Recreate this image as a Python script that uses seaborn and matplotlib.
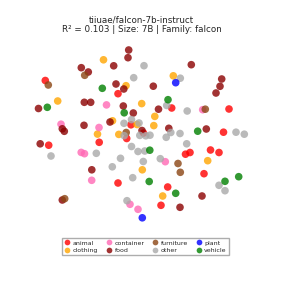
import numpy as np
import pandas as pd
import matplotlib
matplotlib.use('Agg')
import matplotlib.pyplot as plt
import seaborn as sns

# 2D embedding coordinates (x right, y up)
animal_x = [45.3, 118.0, 171.7, 229.0, 131.0, 126.7, 99.2, 48.7, 143.5, 223.5, 185.5, 190.0, 210.5, 219.0, 204.0, 118.0, 167.7, 161.0]
animal_y = [202.5, 189.3, 175.0, 174.0, 158.2, 144.5, 140.7, 137.8, 150.0, 150.8, 128.8, 130.5, 133.0, 130.5, 109.3, 100.0, 96.0, 77.7]

clothing_x = [103.5, 126.0, 57.7, 141.7, 173.3, 154.8, 112.5, 137.0, 153.8, 97.5, 118.8, 207.7, 142.3, 162.7]
clothing_y = [223.2, 197.3, 182.0, 179.4, 207.2, 166.6, 162.2, 158.5, 157.4, 148.9, 148.6, 122.3, 113.2, 87.0]

container_x = [106.5, 61.0, 99.0, 81.2, 84.5, 165.3, 91.7, 130.0, 138.0, 202.7]
container_y = [178.1, 158.8, 155.5, 130.6, 129.3, 121.3, 102.7, 78.7, 73.7, 173.3]

food_x = [128.7, 128.0, 113.7, 81.3, 88.3, 191.3, 116.0, 123.8, 153.3, 221.7, 220.0, 216.0, 84.3, 90.7, 38.5,
          123.3, 158.5, 133.3, 110.0, 84.0, 62.3, 64.3, 142.0, 168.8, 206.3, 40.2, 91.8, 62.3, 202.0, 180.0]
food_y = [233.0, 225.3, 217.2, 215.3, 211.0, 218.3, 199.0, 194.0, 196.8, 204.0, 196.7, 190.0, 180.7, 180.7, 174.5,
          177.0, 173.8, 170.0, 161.0, 157.7, 154.2, 151.7, 152.5, 154.7, 154.0, 139.2, 113.2, 83.0, 87.0, 75.7]

furniture_x = [84.7, 48.3, 205.3, 126.2, 178.0, 180.3, 64.7]
furniture_y = [207.7, 198.0, 173.8, 150.5, 119.5, 110.7, 84.3]

other_x = [144.0, 133.7, 180.3, 166.7, 187.2, 124.0, 131.5, 139.0, 170.8, 180.0, 124.2, 139.8, 145.8, 150.0, 166.2, 236.0,
           244.3, 186.7, 51.0, 96.3, 131.5, 138.0, 144.8, 120.5, 143.3, 160.3, 112.3, 132.7, 219.0, 225.0, 127.0]
other_y = [217.3, 205.3, 204.8, 177.5, 172.0, 159.7, 163.4, 160.0, 150.5, 149.5, 147.3, 147.6, 147.2, 147.8, 145.7, 150.8,
           148.8, 139.2, 127.0, 129.7, 136.5, 131.5, 132.0, 124.7, 121.5, 124.3, 116.2, 105.3, 97.7, 92.3, 82.3]

plant_x = [175.7, 142.3]
plant_y = [200.3, 65.2]

vehicle_x = [102.3, 47.3, 168.0, 124.2, 149.8, 197.7, 149.2, 225.0, 238.7, 175.7]
vehicle_y = [194.7, 175.7, 183.3, 170.2, 132.8, 151.8, 101.5, 101.7, 106.3, 89.7]

categories = ['animal', 'clothing', 'container', 'food', 'furniture', 'other', 'plant', 'vehicle']
colors = ['red', 'orange', 'hotpink', 'darkred', 'saddlebrown', 'darkgray', 'blue', 'green']

xs = [animal_x, clothing_x, container_x, food_x, furniture_x, other_x, plant_x, vehicle_x]
ys = [animal_y, clothing_y, container_y, food_y, furniture_y, other_y, plant_y, vehicle_y]

rows = []
for cat, cx, cy in zip(categories, xs, ys):
    for a, b in zip(cx, cy):
        rows.append({'x': a, 'y': b, 'category': cat})
df = pd.DataFrame(rows)

sns.set_style('white')
fig = plt.figure(figsize=(2.83, 2.83), dpi=100)
ax = fig.add_axes([30 / 283, 58 / 283, 223 / 283, 180 / 283])

sns.scatterplot(data=df, x='x', y='y', hue='category', hue_order=categories,
                palette=dict(zip(categories, colors)), s=30, alpha=0.8,
                linewidth=0, ax=ax, legend=True)
ax.set_xlim(30, 253)
ax.set_ylim(58, 238)
ax.axis('off')

fig.text(0.5, 1 - 25 / 283, 'tiiuae/falcon-7b-instruct\nR² = 0.103 | Size: 7B | Family: falcon',
         ha='center', va='center', fontsize=6.3, linespacing=1.1)

h, l = ax.get_legend_handles_labels()
ax.get_legend().remove()
fig.legend(h, l, loc='center', bbox_to_anchor=(145.5 / 283, 1 - 246.5 / 283), ncol=4,
           fontsize=4.5, markerscale=0.75, frameon=True, fancybox=False, edgecolor='0.6',
           handlelength=1.0, handletextpad=0.4, columnspacing=1.2, borderpad=0.4, labelspacing=0.3)

fig.savefig('out.png', dpi=100)
